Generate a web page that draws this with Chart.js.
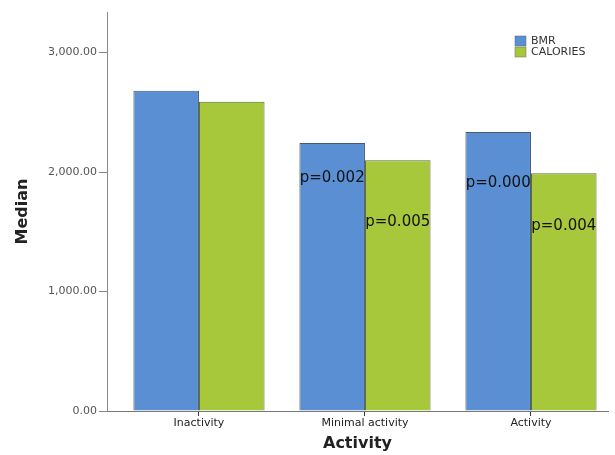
<!DOCTYPE html>
<html>
<head>
<meta charset="utf-8">
<script src="https://cdn.jsdelivr.net/npm/chart.js@4/dist/chart.umd.min.js"></script>
<style>
  html, body { margin: 0; padding: 0; background: #fff; }
  #wrap { width: 615px; height: 455px; }
</style>
</head>
<body>
<div id="wrap"><canvas id="chart"></canvas></div>
<script>
const categories = ["Inactivity", "Minimal activity", "Activity"];
const bmrValues = [2680, 2243, 2335];
const calorieValues = [2588, 2100, 1990];
const yTicks = [0, 1000, 2000, 3000];
// p-value notes: [dataset index, category index, value where the text sits, text]
const pNotes = [
  [0, 1, 1950, "p=0.002"],
  [1, 1, 1580, "p=0.005"],
  [0, 2, 1910, "p=0.000"],
  [1, 2, 1545, "p=0.004"],
];

const fmt = (v) =>
  v.toLocaleString("en-US", { minimumFractionDigits: 2, maximumFractionDigits: 2 });

const pNotePlugin = {
  id: "pNotes",
  afterDatasetsDraw(chart) {
    const ctx = chart.ctx;
    ctx.save();
    ctx.font = "15px 'DejaVu Sans'";
    ctx.fillStyle = "#111";
    ctx.textAlign = "center";
    ctx.textBaseline = "middle";
    pNotes.forEach(([ds, i, v, text]) => {
      const bar = chart.getDatasetMeta(ds).data[i];
      ctx.fillText(text, bar.x, chart.scales.y.getPixelForValue(v));
    });
    ctx.restore();
  },
};

const legendPlugin = {
  id: "boxLegend",
  afterDraw(chart) {
    const ctx = chart.ctx;
    const x = chart.chartArea.right - 93;
    let y = chart.chartArea.top + 29;
    ctx.save();
    ctx.font = "11px 'DejaVu Sans'";
    ctx.textBaseline = "middle";
    chart.data.datasets.forEach((d) => {
      ctx.fillStyle = d.backgroundColor;
      ctx.fillRect(x, y - 5, 11, 10);
      ctx.strokeStyle = "#666";
      ctx.lineWidth = 0.5;
      ctx.strokeRect(x, y - 5, 11, 10);
      ctx.fillStyle = "#333";
      ctx.fillText(d.label, x + 16, y);
      y += 11;
    });
    ctx.restore();
  },
};

new Chart(document.getElementById("chart"), {
  type: "bar",
  data: {
    datasets: [
      {
        label: "BMR",
        data: bmrValues.map((v, i) => ({ x: i, y: v })),
        backgroundColor: "#5a90d3",
        borderColor: "#4a5a6a",
        borderWidth: 1,
      },
      {
        label: "CALORIES",
        data: calorieValues.map((v, i) => ({ x: i, y: v })),
        backgroundColor: "#a8c83c",
        borderColor: "#5a6a3a",
        borderWidth: 1,
      },
    ],
  },
  options: {
    responsive: true,
    maintainAspectRatio: false,
    animation: false,
    layout: { padding: { top: 12, right: 7, left: 0, bottom: 0 } },
    datasets: { bar: { categoryPercentage: 0.79, barPercentage: 1 } },
    plugins: {
      legend: { display: false },
      tooltip: { enabled: false },
    },
    scales: {
      x: {
        type: "linear",
        offset: false,
        min: -0.554,
        max: 2.464,
        afterBuildTicks: (s) => {
          s.ticks = categories.map((c, i) => ({ value: i }));
        },
        afterFit: (s) => {
          s.height = 44;
        },
        grid: { offset: false, drawOnChartArea: false, tickLength: 5, color: "#333" },
        border: { color: "#777", width: 1 },
        ticks: {
          callback: (v) => categories[v],
          color: "#222",
          font: { size: 11, family: "'DejaVu Sans'" },
          padding: 1,
          maxRotation: 0,
        },
        title: {
          display: true,
          text: "Activity",
          color: "#222",
          font: { size: 16, weight: "bold", family: "'DejaVu Sans'" },
          padding: { top: 0, bottom: 2 },
        },
      },
      y: {
        min: 0,
        max: 3340,
        afterBuildTicks: (s) => {
          s.ticks = yTicks.map((v) => ({ value: v }));
        },
        afterFit: (s) => {
          s.width = 107;
        },
        grid: { drawOnChartArea: false, tickLength: 8, color: "#888" },
        border: { color: "#888", width: 1 },
        ticks: {
          callback: (v) => fmt(v),
          color: "#555",
          font: { size: 11, family: "'DejaVu Sans'" },
          padding: 2,
        },
        title: {
          display: true,
          text: "Median",
          color: "#222",
          font: { size: 16, weight: "bold", family: "'DejaVu Sans'" },
          padding: { top: 13, bottom: 0 },
        },
      },
    },
  },
  plugins: [pNotePlugin, legendPlugin],
});
</script>
</body>
</html>
